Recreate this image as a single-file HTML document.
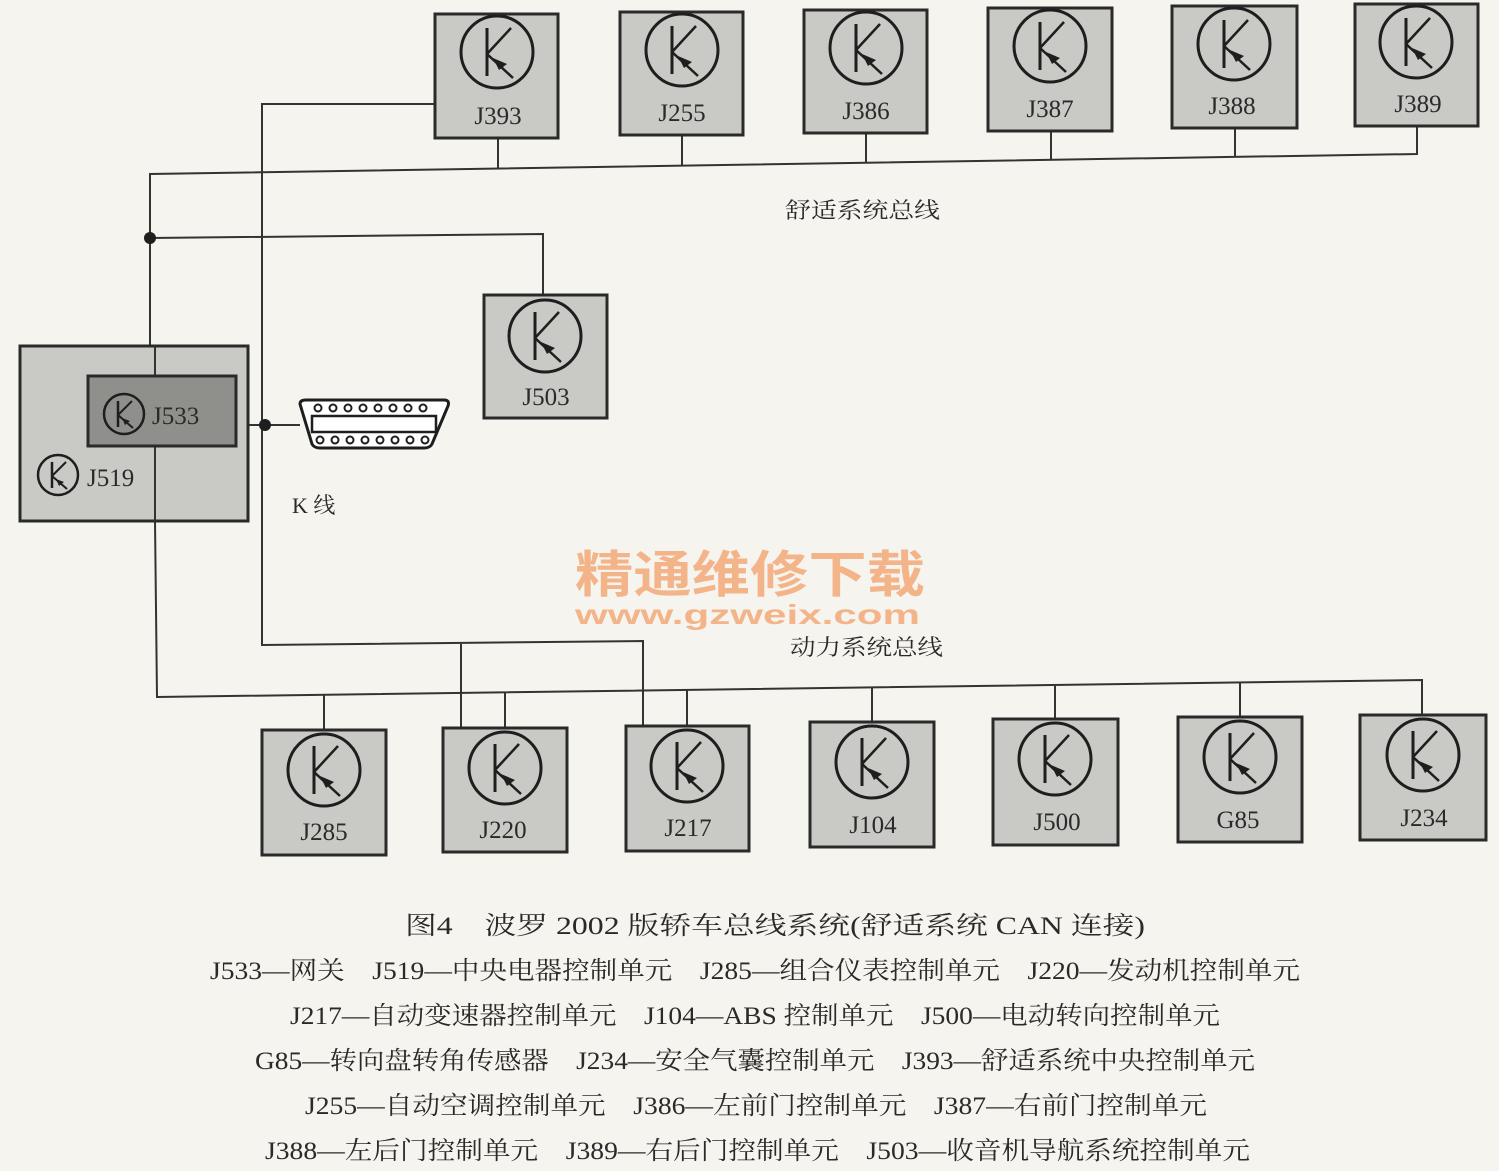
<!DOCTYPE html>
<html><head><meta charset="utf-8"><style>
html,body{margin:0;padding:0;background:#f6f4ef;}
svg{display:block}
text{font-family:"Liberation Serif","Noto Serif CJK SC",serif;fill:#2a2a2a}
</style></head><body>
<svg width="1499" height="1171" viewBox="0 0 1499 1171" xmlns="http://www.w3.org/2000/svg">
<defs>
<g id="ic">
<circle cx="0" cy="0" r="36" fill="none" stroke="#1e1e1e" stroke-width="3"/>
<line x1="-10" y1="-24" x2="-10" y2="24" stroke="#1e1e1e" stroke-width="3"/>
<line x1="-10" y1="2" x2="14" y2="-24" stroke="#1e1e1e" stroke-width="2.5"/>
<line x1="-10" y1="2" x2="16" y2="26" stroke="#1e1e1e" stroke-width="2.5"/>
<polygon points="-4,6 10,12 2,18" fill="#1e1e1e"/>
</g>
<g id="ics">
<circle cx="0" cy="0" r="20" fill="none" stroke="#1e1e1e" stroke-width="2.5"/>
<line x1="-6" y1="-13" x2="-6" y2="13" stroke="#1e1e1e" stroke-width="2.5"/>
<line x1="-6" y1="1" x2="8" y2="-13" stroke="#1e1e1e" stroke-width="2"/>
<line x1="-6" y1="1" x2="9" y2="14" stroke="#1e1e1e" stroke-width="2"/>
<polygon points="-2,4 6,7 1,11" fill="#1e1e1e"/>
</g>
</defs>
<g stroke="#333" stroke-width="2" fill="none">
<!-- top bus -->
<polyline points="150,345 150,174 1417,154 1417,126"/>
<line x1="498" y1="138" x2="498" y2="168"/>
<line x1="682" y1="135" x2="682" y2="165"/>
<line x1="866" y1="133" x2="866" y2="162"/>
<line x1="1051" y1="131" x2="1051" y2="160"/>
<line x1="1235" y1="128" x2="1235" y2="157"/>
<polyline points="150,238 543,234 543,295"/>
<polyline points="435,104 262,104 262,645 643,641 643,726"/>
<line x1="461" y1="644" x2="461" y2="728"/>
<line x1="236" y1="425" x2="300" y2="425"/>
<!-- bottom bus -->
<polyline points="155,521 157,697 1422,680 1422,715"/>
<line x1="324" y1="695" x2="324" y2="730"/>
<line x1="505" y1="693" x2="505" y2="728"/>
<line x1="687" y1="690" x2="687" y2="726"/>
<line x1="872" y1="688" x2="872" y2="722"/>
<line x1="1055" y1="686" x2="1055" y2="719"/>
<line x1="1240" y1="683" x2="1240" y2="717"/>
</g>
<circle cx="150" cy="238" r="6" fill="#1e1e1e"/>
<circle cx="265" cy="425" r="6" fill="#1e1e1e"/>
<g fill="#c9c9c5" stroke="#2a2a2a" stroke-width="3">
<rect x="435" y="14" width="123" height="124"/>
<rect x="620" y="12" width="123" height="123"/>
<rect x="804" y="10" width="123" height="123"/>
<rect x="988" y="8" width="124" height="123"/>
<rect x="1172" y="6" width="125" height="122"/>
<rect x="1355" y="4" width="123" height="122"/>
<rect x="484" y="295" width="123" height="123"/>
<rect x="20" y="346" width="228" height="175"/>
<rect x="262" y="730" width="124" height="125"/>
<rect x="443" y="728" width="124" height="124"/>
<rect x="626" y="726" width="123" height="125"/>
<rect x="810" y="722" width="124" height="125"/>
<rect x="993" y="719" width="125" height="126"/>
<rect x="1178" y="717" width="124" height="125"/>
<rect x="1360" y="715" width="126" height="125"/>
</g>
<line x1="155" y1="346" x2="155" y2="521" stroke="#333" stroke-width="2"/>
<rect x="88" y="376" width="148" height="70" fill="#8f8f8c" stroke="#2a2a2a" stroke-width="3"/>
<!-- icons -->
<use href="#ic" x="497" y="52"/><use href="#ic" x="682" y="50"/><use href="#ic" x="866" y="48"/>
<use href="#ic" x="1050" y="46"/><use href="#ic" x="1234" y="44"/><use href="#ic" x="1416" y="42"/>
<use href="#ic" x="545" y="336"/>
<use href="#ic" x="324" y="770"/><use href="#ic" x="505" y="768"/><use href="#ic" x="687" y="766"/>
<use href="#ic" x="872" y="762"/><use href="#ic" x="1055" y="759"/><use href="#ic" x="1240" y="757"/><use href="#ic" x="1423" y="755"/>
<use href="#ics" x="124" y="414"/><use href="#ics" x="58" y="475"/>
<g font-size="25" text-anchor="middle">
<text x="498" y="124">J393</text><text x="682" y="121">J255</text><text x="866" y="119">J386</text>
<text x="1050" y="117">J387</text><text x="1232" y="114">J388</text><text x="1418" y="112">J389</text>
<text x="546" y="405">J503</text>
<text x="324" y="840">J285</text><text x="503" y="838">J220</text><text x="688" y="836">J217</text>
<text x="873" y="833">J104</text><text x="1057" y="830">J500</text><text x="1238" y="828">G85</text><text x="1424" y="826">J234</text>
</g>
<text x="152" y="424" font-size="25">J533</text>
<text x="87" y="486" font-size="25">J519</text>
<!-- connector -->
<g stroke="#1e1e1e" stroke-width="3" fill="#fff">
<path d="M300,404 Q300,400 306,400 L444,400 Q450,400 448,406 L432,444 Q430,448 424,448 L320,448 Q314,448 312,444 Z"/>
<rect x="312" y="416" width="124" height="16" stroke-width="2.5"/>
</g>
<g fill="#fff" stroke="#1e1e1e" stroke-width="2">
<circle cx="318" cy="408" r="3.5"/><circle cx="333" cy="408" r="3.5"/><circle cx="348" cy="408" r="3.5"/><circle cx="363" cy="408" r="3.5"/><circle cx="378" cy="408" r="3.5"/><circle cx="393" cy="408" r="3.5"/><circle cx="408" cy="408" r="3.5"/><circle cx="423" cy="408" r="3.5"/>
<circle cx="320" cy="440" r="3.5"/><circle cx="335" cy="440" r="3.5"/><circle cx="350" cy="440" r="3.5"/><circle cx="365" cy="440" r="3.5"/><circle cx="380" cy="440" r="3.5"/><circle cx="395" cy="440" r="3.5"/><circle cx="410" cy="440" r="3.5"/><circle cx="425" cy="440" r="3.5"/>
</g>
<g font-size="22" font-family="Liberation Serif,Noto Sans CJK SC,sans-serif">
<text x="292" y="513">K 线</text>
<text x="785" y="218" textLength="155" lengthAdjust="spacingAndGlyphs">舒适系统总线</text>
<text x="790" y="655" textLength="153" lengthAdjust="spacingAndGlyphs">动力系统总线</text>
</g>
<text x="575" y="592" font-size="50" font-weight="bold" textLength="350" lengthAdjust="spacingAndGlyphs" style="fill:#f3b489;font-family:'Noto Sans CJK SC',sans-serif">精通维修下载</text>
<text x="575" y="624" font-size="28" font-weight="bold" textLength="345" lengthAdjust="spacingAndGlyphs" style="fill:#f3b489;font-family:'Liberation Sans',sans-serif">www.gzweix.com</text>
<g font-size="25">
<text x="405" y="934" textLength="740" lengthAdjust="spacingAndGlyphs">图4　波罗 2002 版轿车总线系统(舒适系统 CAN 连接)</text>
<text x="210" y="979" textLength="1090" lengthAdjust="spacingAndGlyphs">J533—网关　J519—中央电器控制单元　J285—组合仪表控制单元　J220—发动机控制单元</text>
<text x="290" y="1024" textLength="930" lengthAdjust="spacingAndGlyphs">J217—自动变速器控制单元　J104—ABS 控制单元　J500—电动转向控制单元</text>
<text x="255" y="1069" textLength="1000" lengthAdjust="spacingAndGlyphs">G85—转向盘转角传感器　J234—安全气囊控制单元　J393—舒适系统中央控制单元</text>
<text x="305" y="1114" textLength="902" lengthAdjust="spacingAndGlyphs">J255—自动空调控制单元　J386—左前门控制单元　J387—右前门控制单元</text>
<text x="265" y="1159" textLength="985" lengthAdjust="spacingAndGlyphs">J388—左后门控制单元　J389—右后门控制单元　J503—收音机导航系统控制单元</text>
</g>
</svg>
</body></html>
